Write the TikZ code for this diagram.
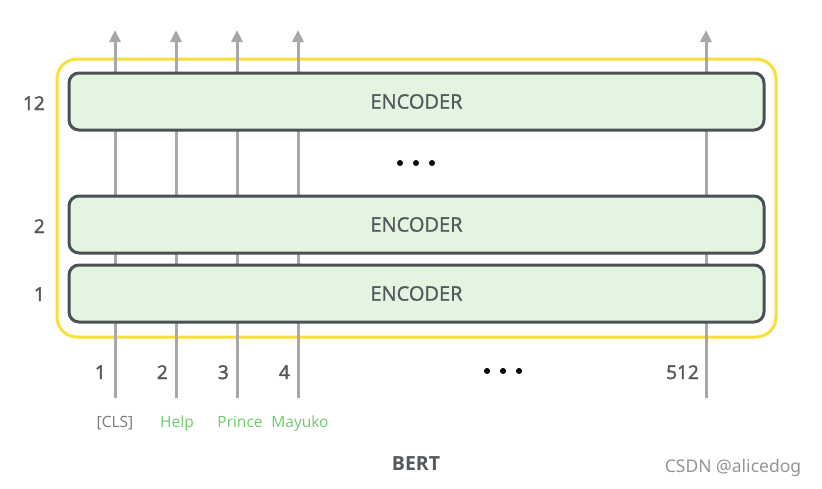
\documentclass[tikz,border=0pt]{standalone}
\usepackage{fontspec}
\setmainfont{Open Sans}
\newfontfamily\semi[FakeBold=1.3]{Open Sans}
\newfontfamily\semib[FakeBold=2.2]{Open Sans}
\newfontfamily\wmfont{Noto Sans}
\usetikzlibrary{arrows.meta}
\definecolor{encfill}{HTML}{E3F4E1}
\definecolor{encdraw}{HTML}{4B5057}
\definecolor{ylw}{HTML}{F8DF3A}
\definecolor{arr}{HTML}{A8A8A8}
\definecolor{txt}{HTML}{54595E}
\definecolor{grn}{HTML}{6DCB6A}
\definecolor{clsgray}{HTML}{7A7A7A}
\definecolor{wm}{HTML}{959595}
\tikzset{
  encbox/.style={draw=encdraw, fill=encfill, line width=3pt, rounded corners=10pt,
    minimum width=695pt, minimum height=57pt, inner sep=0pt, text=txt,
    font=\semi\fontsize{20}{22}\selectfont},
  bertbox/.style={draw=ylw, line width=3pt, rounded corners=20pt,
    minimum width=719pt, minimum height=278pt, inner sep=0pt},
  flow/.style={draw=arr, line width=3pt, -{Triangle[length=12pt,width=11pt]}},
  layernum/.style={text=txt, font=\semib\fontsize{19}{20}\selectfont, inner sep=0pt, anchor=base east},
  posnum/.style={text=txt, font=\semib\fontsize{19}{20}\selectfont, inner sep=0pt, anchor=base east},
  word/.style={font=\fontsize{15.5}{18}\selectfont, inner sep=0pt, anchor=base},
  dot/.style={fill=black}
}
\begin{document}
\begin{tikzpicture}[x=1pt,y=-1pt]
\useasboundingbox (0,0) rectangle (822,488);
\fill[white] (0,0) rectangle (822,488);
\node[bertbox] (bert) at (416.5,198) {};
% arrows
\foreach \i/\x in {1/115,2/176,3/237,4/298,5/706}{
  \coordinate (b\i) at (\x,398);
  \coordinate (t\i) at (\x,30);
  \draw[flow] (b\i) -- (t\i);
}
\node[encbox] (enc12) at (416.5,101.5) {ENCODER};
\node[encbox] (enc2) at (416.5,224.5) {ENCODER};
\node[encbox] (enc1) at (416.5,293.5) {ENCODER};
% layer numbers
\node[layernum] (l12) at (45,110) {12};
\node[layernum] (l2) at (45,233) {2};
\node[layernum] (l1) at (45,301) {1};
% vertical dots
\foreach \x in {400,416,432}{\fill[dot] (\x,163) circle (3pt);}
% position numbers
\node[posnum] (p1) at (106,379) {1};
\node[posnum] (p2) at (168,379) {2};
\node[posnum] (p3) at (229,379) {3};
\node[posnum] (p4) at (290,379) {4};
\node[posnum] (p512) at (699,379) {512};
\foreach \x in {487,503,519}{\fill[dot] (\x,371) circle (3pt);}
% words
\node[word, text=clsgray] (w1) at (115,427) {[CLS]};
\node[word, text=grn] (w2) at (177,427) {Help};
\node[word, text=grn] (w3) at (240,427) {Prince};
\node[word, text=grn] (w4) at (300,427) {Mayuko};
% title
\node[text=txt, font=\fontsize{19.5}{20}\selectfont\bfseries, inner sep=0pt, anchor=base] (title) at (416,470) {BERT};
\node[text=wm, font=\wmfont\fontsize{17.5}{20}\selectfont, inner sep=0pt, anchor=base] (mark) at (733,472) {CSDN @alicedog};
\end{tikzpicture}
\end{document}
